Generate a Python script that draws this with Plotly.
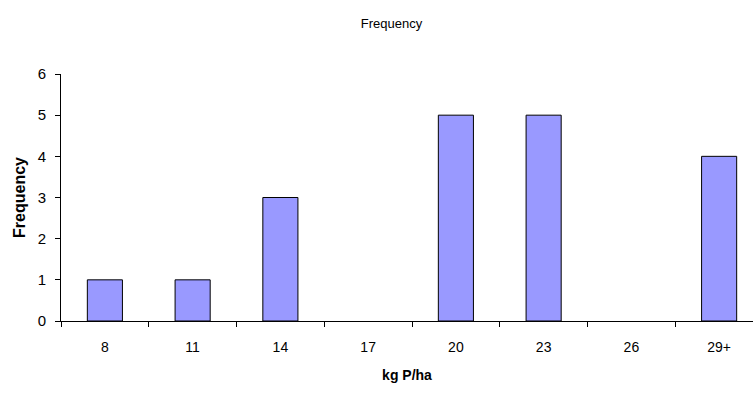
import plotly.graph_objects as go

categories = ["8", "11", "14", "17", "20", "23", "26", "29+"]
frequency = [1, 1, 3, 0, 5, 5, 0, 4]

# empty classes get no outline so nothing is drawn on the baseline
outline_widths = [1 if v > 0 else 0 for v in frequency]

fig = go.Figure(
    go.Bar(
        x=categories,
        y=frequency,
        width=0.4,
        marker=dict(color="#9999FF", line=dict(color="#000000", width=outline_widths)),
    )
)

font = "Liberation Sans, Arial, sans-serif"

fig.update_layout(
    width=753,
    height=393,
    margin=dict(l=61, r=0, t=74, b=72),
    paper_bgcolor="white",
    plot_bgcolor="white",
    showlegend=False,
    font=dict(family=font, size=14, color="black"),
    title=dict(
        text="Frequency",
        x=0.52,
        xanchor="center",
        y=1 - 23 / 393,
        yanchor="middle",
        font=dict(family=font, size=13, color="black"),
    ),
    xaxis=dict(
        type="category",
        range=[-0.5, 7.386],
        showline=True,
        linecolor="black",
        linewidth=1,
        ticks="outside",
        tickson="boundaries",
        ticklen=5,
        tickcolor="black",
        showgrid=False,
        zeroline=False,
        ticklabelstandoff=13,
        title=dict(text="<b>kg P/ha</b>", font=dict(family=font, size=14), standoff=16),
        tickfont=dict(family=font, size=14),
    ),
    yaxis=dict(
        range=[0, 6],
        dtick=1,
        showline=True,
        linecolor="black",
        linewidth=1,
        ticks="outside",
        ticklen=5,
        tickcolor="black",
        showgrid=False,
        zeroline=False,
        ticklabelstandoff=6,
        title=dict(text="<b>Frequency</b>", font=dict(family=font, size=16), standoff=8),
        tickfont=dict(family=font, size=15),
    ),
)

fig.write_html("out.html")
